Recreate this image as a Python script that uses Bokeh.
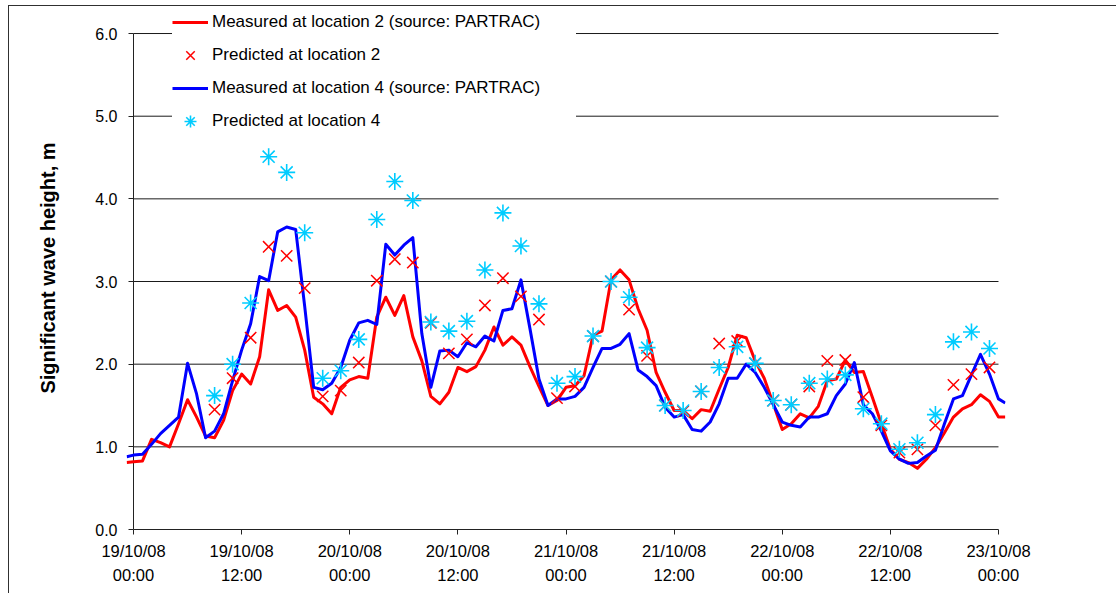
from bokeh.plotting import figure
from bokeh.models import FixedTicker, Legend, LegendItem, Range1d, PrintfTickFormatter
from bokeh.embed import file_html
from bokeh.resources import INLINE

# ---------------- data ----------------
# time in hours after 19/10/08 00:00
meas_hours = [-0.75] + list(range(0, 97)) + [96.75]

loc2_measured = [
    0.81,
    0.82, 0.83, 1.09, 1.05, 1.00, 1.28, 1.57, 1.36, 1.13, 1.11,
    1.32, 1.68, 1.88, 1.76, 2.09, 2.90, 2.65, 2.71, 2.57, 2.17,
    1.60, 1.52, 1.40, 1.72, 1.81, 1.85, 1.83, 2.57, 2.81, 2.59,
    2.83, 2.33, 2.04, 1.61, 1.52, 1.66, 1.96, 1.91, 1.97, 2.17,
    2.45, 2.23, 2.33, 2.23, 1.97, 1.73, 1.50, 1.56, 1.72, 1.74,
    1.86, 2.35, 2.40, 3.02, 3.14, 3.02, 2.67, 2.41, 1.90, 1.66,
    1.44, 1.44, 1.34, 1.45, 1.43, 1.70, 1.96, 2.35, 2.32, 2.04,
    1.83, 1.52, 1.21, 1.28, 1.40, 1.35, 1.49, 1.80, 1.82, 2.05,
    1.90, 1.91, 1.60, 1.28, 0.97, 0.85, 0.81, 0.74, 0.85, 0.99,
    1.17, 1.36, 1.46, 1.51, 1.63, 1.55, 1.36,
    1.36,
]

loc4_measured = [
    0.88,
    0.90, 0.91, 1.03, 1.16, 1.26, 1.36, 2.01, 1.64, 1.11, 1.19,
    1.40, 1.80, 2.17, 2.49, 3.06, 3.01, 3.60, 3.66, 3.63, 2.70,
    1.72, 1.69, 1.77, 1.96, 2.29, 2.50, 2.53, 2.48, 3.45, 3.32,
    3.44, 3.53, 2.37, 1.72, 2.16, 2.17, 2.09, 2.26, 2.21, 2.34,
    2.28, 2.65, 2.67, 3.02, 2.43, 1.82, 1.50, 1.58, 1.58, 1.61,
    1.72, 1.96, 2.19, 2.19, 2.24, 2.37, 1.93, 1.85, 1.74, 1.48,
    1.36, 1.39, 1.21, 1.19, 1.30, 1.52, 1.83, 1.83, 2.00, 1.90,
    1.72, 1.51, 1.30, 1.26, 1.24, 1.36, 1.36, 1.40, 1.62, 1.76,
    2.02, 1.51, 1.40, 1.19, 0.95, 0.85, 0.80, 0.81, 0.89, 0.96,
    1.28, 1.58, 1.62, 1.87, 2.12, 1.88, 1.58,
    1.53,
]

pred_hours = list(range(9, 96, 2))

loc2_predicted = [
    1.45, 1.83, 2.32, 3.42, 3.31, 2.92, 1.61, 1.68, 2.02, 3.01,
    3.27, 3.23, 2.50, 2.13, 2.30, 2.71, 3.04, 2.82, 2.54, 1.59,
    1.73, 2.34, 3.00, 2.66, 2.10, 1.50, 1.43, 1.67, 2.25, 2.28,
    2.01, 1.56, 1.51, 1.73, 2.04, 2.05, 1.60, 1.26, 0.93, 0.97,
    1.26, 1.75, 1.88, 1.96,
]

loc4_predicted = [
    1.62, 2.00, 2.74, 4.51, 4.32, 3.59, 1.83, 1.92, 2.30, 3.75,
    4.21, 3.98, 2.51, 2.40, 2.52, 3.14, 3.83, 3.43, 2.73, 1.77,
    1.85, 2.34, 3.00, 2.81, 2.20, 1.50, 1.44, 1.67, 1.96, 2.21,
    2.01, 1.56, 1.51, 1.77, 1.82, 1.87, 1.46, 1.28, 0.97, 1.05,
    1.39, 2.27, 2.39, 2.19,
]

x_tick_hours = [0, 12, 24, 36, 48, 60, 72, 84, 96]
x_tick_labels = [
    "19/10/08\n00:00", "19/10/08\n12:00", "20/10/08\n00:00", "20/10/08\n12:00",
    "21/10/08\n00:00", "21/10/08\n12:00", "22/10/08\n00:00", "22/10/08\n12:00",
    "23/10/08\n00:00",
]
y_ticks = [0, 1, 2, 3, 4, 5, 6]

series_names = [
    "Measured at location 2 (source: PARTRAC)",
    "Predicted at location 2",
    "Measured at location 4 (source: PARTRAC)",
    "Predicted at location 4",
]

# ---------------- figure ----------------
FONT = "Liberation Sans"
AXIS_COLOR = "#222222"

p = figure(
    width=1108, height=588,
    output_backend="svg", toolbar_location=None,
    x_range=Range1d(-0.777, 96.777), y_range=Range1d(0, 6.327),
    min_border_left=117, min_border_right=112, min_border_top=0, min_border_bottom=65,
    background_fill_color="white", border_fill_color="white",
    outline_line_color=None,
)
p.styles = {
    "margin-left": "8px", "margin-top": "5px",
    "border-left": "1px solid #303030", "border-top": "1px solid #303030",
}

p.xgrid.visible = False
p.ygrid.visible = False

# horizontal grid lines spanning the axis extent
grid_levels = y_ticks[1:]
p.segment(x0=x_tick_hours[0], x1=x_tick_hours[-1], y0=grid_levels, y1=grid_levels,
          line_color="#1a1a1a", line_width=1, level="underlay")
# vertical axis line at the first time tick
p.segment(x0=[x_tick_hours[0]], x1=[x_tick_hours[0]], y0=[y_ticks[0]], y1=[y_ticks[-1]],
          line_color=AXIS_COLOR, line_width=1, level="underlay")

xa = p.xaxis[0]
xa.ticker = FixedTicker(ticks=x_tick_hours)
xa.major_label_overrides = {h: lab for h, lab in zip(x_tick_hours, x_tick_labels)}
xa.bounds = (x_tick_hours[0], x_tick_hours[-1])
xa.minor_tick_line_color = None
xa.major_tick_out = 5
xa.major_tick_in = 0
xa.axis_line_color = AXIS_COLOR
xa.major_tick_line_color = AXIS_COLOR
xa.major_label_text_font = FONT
xa.major_label_text_font_size = "16.5px"
xa.major_label_text_color = "black"
xa.major_label_text_line_height = 1.35
xa.major_label_standoff = 7

ya = p.yaxis[0]
ya.ticker = FixedTicker(ticks=y_ticks)
ya.formatter = PrintfTickFormatter(format="%.1f")
ya.minor_tick_line_color = None
ya.axis_line_color = None
ya.major_tick_out = -2
ya.major_tick_in = 7
ya.major_tick_line_color = AXIS_COLOR
ya.major_label_text_font = FONT
ya.major_label_text_font_size = "16px"
ya.major_label_text_color = "black"
ya.major_label_standoff = 9
ya.axis_label = "Significant wave height, m"
ya.axis_label_text_font = FONT
ya.axis_label_text_font_size = "20px"
ya.axis_label_text_font_style = "bold"
ya.axis_label_text_color = "black"
ya.axis_label_standoff = 33

r_m2 = p.line(meas_hours, loc2_measured, line_color="#FF0000", line_width=3, line_join="round")
r_m4 = p.line(meas_hours, loc4_measured, line_color="#0000FF", line_width=3, line_join="round")
r_p2 = p.scatter(pred_hours, loc2_predicted, marker="x", size=16,
                 line_color="#FF0000", line_width=1.5)
r_p4 = p.scatter(pred_hours, loc4_predicted, marker="asterisk", size=17,
                 line_color="#00CCFF", line_width=1.6)

legend = Legend(
    items=[
        LegendItem(label=series_names[0], renderers=[r_m2]),
        LegendItem(label=series_names[1], renderers=[r_p2]),
        LegendItem(label=series_names[2], renderers=[r_m4]),
        LegendItem(label=series_names[3], renderers=[r_p4]),
    ],
    location=(46, 393),
    padding=0, margin=0, spacing=3,
    glyph_width=36, glyph_height=30, label_height=30, label_width=364,
    label_standoff=4,
    background_fill_color="white", background_fill_alpha=1.0,
    border_line_color=None,
    label_text_font=FONT, label_text_font_size="17px", label_text_color="black",
)
p.add_layout(legend)

open("out.html", "w").write(file_html(p, INLINE))
